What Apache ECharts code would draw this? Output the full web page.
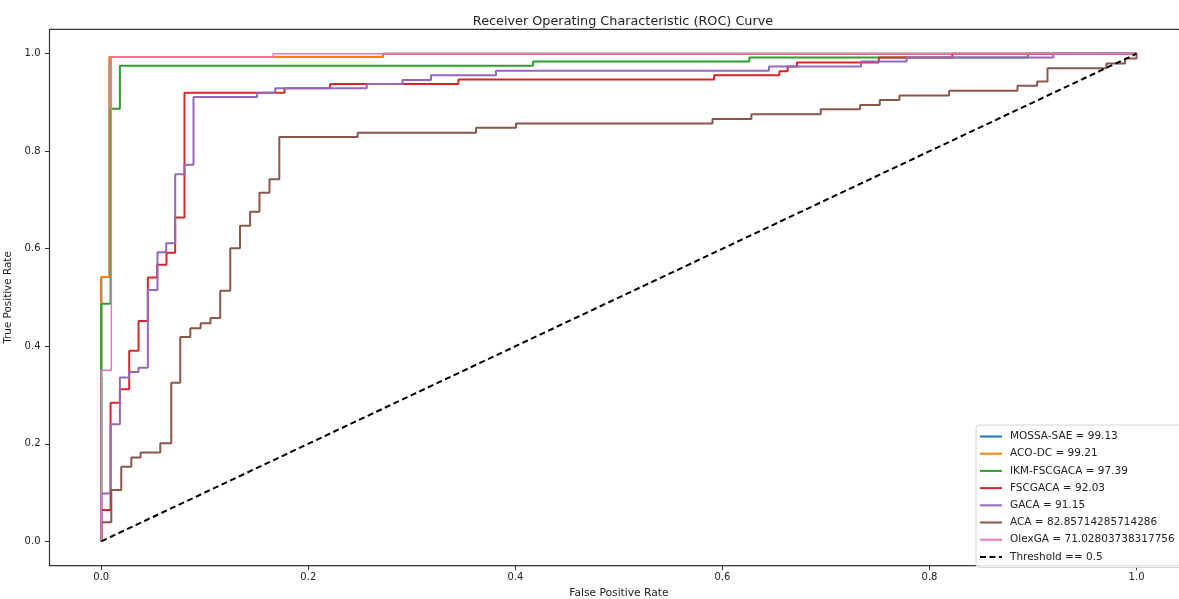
<!DOCTYPE html>
<html>
<head>
<meta charset="utf-8">
<title>ROC Curve</title>
<script src="https://cdn.jsdelivr.net/npm/echarts@6/dist/echarts.min.js"></script>
<style>
  html, body { margin: 0; padding: 0; background: #fff; }
  #chart { width: 1179px; height: 599px; }
</style>
</head>
<body>
<div id="chart"></div>
<script>
// ─── Data ─────────────────────────────────────────────────────────────────────

const xTicks = [0, 0.2, 0.4, 0.6, 0.8, 1.0]
const yTicks = [0, 0.2, 0.4, 0.6, 0.8, 1.0]

const names = [
  'MOSSA-SAE = 99.13',
  'ACO-DC = 99.21',
  'IKM-FSCGACA = 97.39',
  'FSCGACA = 92.03',
  'GACA = 91.15',
  'ACA = 82.85714285714286',
  'OlexGA = 71.02803738317756',
  'Threshold == 0.5',
]

// MOSSA-SAE is hidden under ACO-DC in the picture
const mossaFpr = [0, 0, 0.008, 0.008, 0.272, 0.272, 1]
const mossaTpr = [0, 0.542, 0.542, 0.993, 0.993, 1, 1]

const acoFpr = [0, 0, 0.008, 0.008, 0.272, 0.272, 1]
const acoTpr = [0, 0.542, 0.542, 0.993, 0.993, 1, 1]

const ikmFpr = [0, 0, 0.009, 0.009, 0.018, 0.018, 0.417, 0.417, 0.626, 0.626, 0.895, 0.895, 1]
const ikmTpr = [0, 0.487, 0.487, 0.887, 0.887, 0.975, 0.975, 0.984, 0.984, 0.992, 0.992, 1, 1]

const fscFpr = [0, 0, 0.009, 0.009, 0.018, 0.018, 0.027, 0.027, 0.036, 0.036, 0.045, 0.045,
  0.054, 0.054, 0.063, 0.063, 0.0714, 0.0714, 0.0804, 0.0804, 0.177, 0.177, 0.221, 0.221,
  0.345, 0.345, 0.592, 0.592, 0.655, 0.655, 0.663, 0.663, 0.672, 0.672, 0.751, 0.751, 0.822, 0.822, 1]
const fscTpr = [0, 0.064, 0.064, 0.284, 0.284, 0.312, 0.312, 0.391, 0.391, 0.452, 0.452, 0.541,
  0.541, 0.567, 0.567, 0.592, 0.592, 0.664, 0.664, 0.920, 0.920, 0.929, 0.929, 0.938,
  0.938, 0.947, 0.947, 0.956, 0.956, 0.964, 0.964, 0.9735, 0.9735, 0.982, 0.982, 0.992, 0.992, 1, 1]

const gacaFpr = [0, 0, 0.009, 0.009, 0.018, 0.018, 0.027, 0.027, 0.036, 0.036, 0.045, 0.045,
  0.0543, 0.0543, 0.0627, 0.0627, 0.0714, 0.0714, 0.0804, 0.0804, 0.0891, 0.0891, 0.1506, 0.1506,
  0.168, 0.168, 0.2564, 0.2564, 0.291, 0.291, 0.3185, 0.3185, 0.3813, 0.3813, 0.645, 0.645,
  0.734, 0.734, 0.778, 0.778, 0.9196, 0.9196, 1]
const gacaTpr = [0, 0.098, 0.098, 0.24, 0.24, 0.336, 0.336, 0.347, 0.347, 0.356, 0.356, 0.5155,
  0.5155, 0.593, 0.593, 0.611, 0.611, 0.753, 0.753, 0.772, 0.772, 0.911, 0.911, 0.920,
  0.920, 0.929, 0.929, 0.938, 0.938, 0.946, 0.946, 0.956, 0.956, 0.965, 0.965, 0.9735,
  0.9735, 0.984, 0.984, 0.992, 0.992, 1, 1]

const acaFpr = [0, 0, 0.0097, 0.0097, 0.0193, 0.0193, 0.029, 0.029, 0.038, 0.038, 0.057, 0.057,
  0.0676, 0.0676, 0.0763, 0.0763, 0.086, 0.086, 0.096, 0.096, 0.1055, 0.1055, 0.1149, 0.1149,
  0.1246, 0.1246, 0.134, 0.134, 0.1438, 0.1438, 0.1528, 0.1528, 0.1625, 0.1625, 0.172, 0.172,
  0.2477, 0.2477, 0.362, 0.362, 0.4006, 0.4006, 0.5904, 0.5904, 0.628, 0.628, 0.695, 0.695,
  0.733, 0.733, 0.752, 0.752, 0.771, 0.771, 0.819, 0.819, 0.885, 0.885, 0.904, 0.904,
  0.914, 0.914, 0.971, 0.971, 0.989, 0.989, 1.0, 1.0]
const acaTpr = [0, 0.039, 0.039, 0.105, 0.105, 0.153, 0.153, 0.172, 0.172, 0.182, 0.182, 0.201,
  0.201, 0.325, 0.325, 0.419, 0.419, 0.437, 0.437, 0.447, 0.447, 0.458, 0.458, 0.514,
  0.514, 0.601, 0.601, 0.647, 0.647, 0.676, 0.676, 0.715, 0.715, 0.7425, 0.7425, 0.829,
  0.829, 0.838, 0.838, 0.848, 0.848, 0.857, 0.857, 0.866, 0.866, 0.876, 0.876, 0.886,
  0.886, 0.895, 0.895, 0.905, 0.905, 0.914, 0.914, 0.924, 0.924, 0.934, 0.934, 0.943,
  0.943, 0.970, 0.970, 0.980, 0.980, 0.99, 0.99, 1.0]

const olexFpr = [0, 0, 0.0097, 0.0097, 0.166, 0.166, 1]
const olexTpr = [0, 0.351, 0.351, 0.993, 0.993, 1, 1]

const threshFpr = [0, 1]
const threshTpr = [0, 1]

const colors = ['#1f77b4', '#ff7f0e', '#2ca02c', '#d62728', '#9467bd', '#8c564b', '#e377c2', '#000000']

// ─── Chart ─────────────────────────────────────────────────────────────────────

const FONT = 'DejaVu Sans'
const zip = (xs, ys) => xs.map((x, i) => [x, ys[i]])

const curves = [
  [mossaFpr, mossaTpr], [acoFpr, acoTpr], [ikmFpr, ikmTpr], [fscFpr, fscTpr],
  [gacaFpr, gacaTpr], [acaFpr, acaTpr], [olexFpr, olexTpr], [threshFpr, threshTpr],
]

const series = curves.map(([xs, ys], i) => ({
  name: names[i],
  type: 'line',
  data: zip(xs, ys),
  symbol: 'none',
  color: colors[i],
  lineStyle: {
    color: colors[i],
    width: i === 6 ? 1.5 : 2,
    type: i === 7 ? [6, 3.5] : 'solid',
  },
  z: 2 + i,
}))

const chart = echarts.init(document.getElementById('chart'), null, { renderer: 'canvas' })
chart.setOption({
  animation: false,
  backgroundColor: '#fff',
  textStyle: { fontFamily: FONT },
  title: {
    text: 'Receiver Operating Characteristic (ROC) Curve',
    left: 618, top: 10, textAlign: 'center',
    textStyle: { fontFamily: FONT, fontSize: 12.8, fontWeight: 'normal', color: '#222' },
  },
  grid: {
    left: 49.5, right: -9.3, top: 29.3, bottom: 33.3,
    show: true, borderColor: '#333', borderWidth: 1.2,
    outerBoundsMode: 'none',
  },
  legend: {
    orient: 'vertical', left: 976, top: 425,
    padding: [6, 10, 5, 3],
    itemWidth: 22, itemHeight: 10, itemGap: 6.2,
    itemStyle: { opacity: 0 },
    backgroundColor: 'rgba(255,255,255,0.85)',
    borderColor: '#d4d4d4', borderWidth: 1, borderRadius: 3,
    textStyle: { fontFamily: FONT, fontSize: 10.5, color: '#222', padding: [0, 0, 0, 3] },
    data: names,
  },
  xAxis: {
    type: 'value', min: -0.05, max: 1.05,
    name: 'False Positive Rate', nameLocation: 'middle', nameGap: 20,
    nameTextStyle: { fontFamily: FONT, fontSize: 10.7, color: '#222' },
    axisLine: { show: false, onZero: false },
    splitLine: { show: false },
    axisTick: { show: true, inside: false, length: 4.5, customValues: xTicks, lineStyle: { color: '#333' } },
    axisLabel: {
      customValues: xTicks, margin: 7,
      fontFamily: FONT, fontSize: 10, color: '#222',
      formatter: v => v.toFixed(1),
    },
  },
  yAxis: {
    type: 'value', min: -0.05, max: 1.05,
    name: 'True Positive Rate', nameLocation: 'middle', nameGap: 30, nameRotate: 90,
    nameTextStyle: { fontFamily: FONT, fontSize: 10.4, color: '#222' },
    axisLine: { show: false, onZero: false },
    splitLine: { show: false },
    axisTick: { show: true, inside: false, length: 4.5, customValues: yTicks, lineStyle: { color: '#333' } },
    axisLabel: {
      customValues: yTicks, margin: 9,
      fontFamily: FONT, fontSize: 10, color: '#222',
      formatter: v => v.toFixed(1),
    },
  },
  series,
})
</script>
</body>
</html>
